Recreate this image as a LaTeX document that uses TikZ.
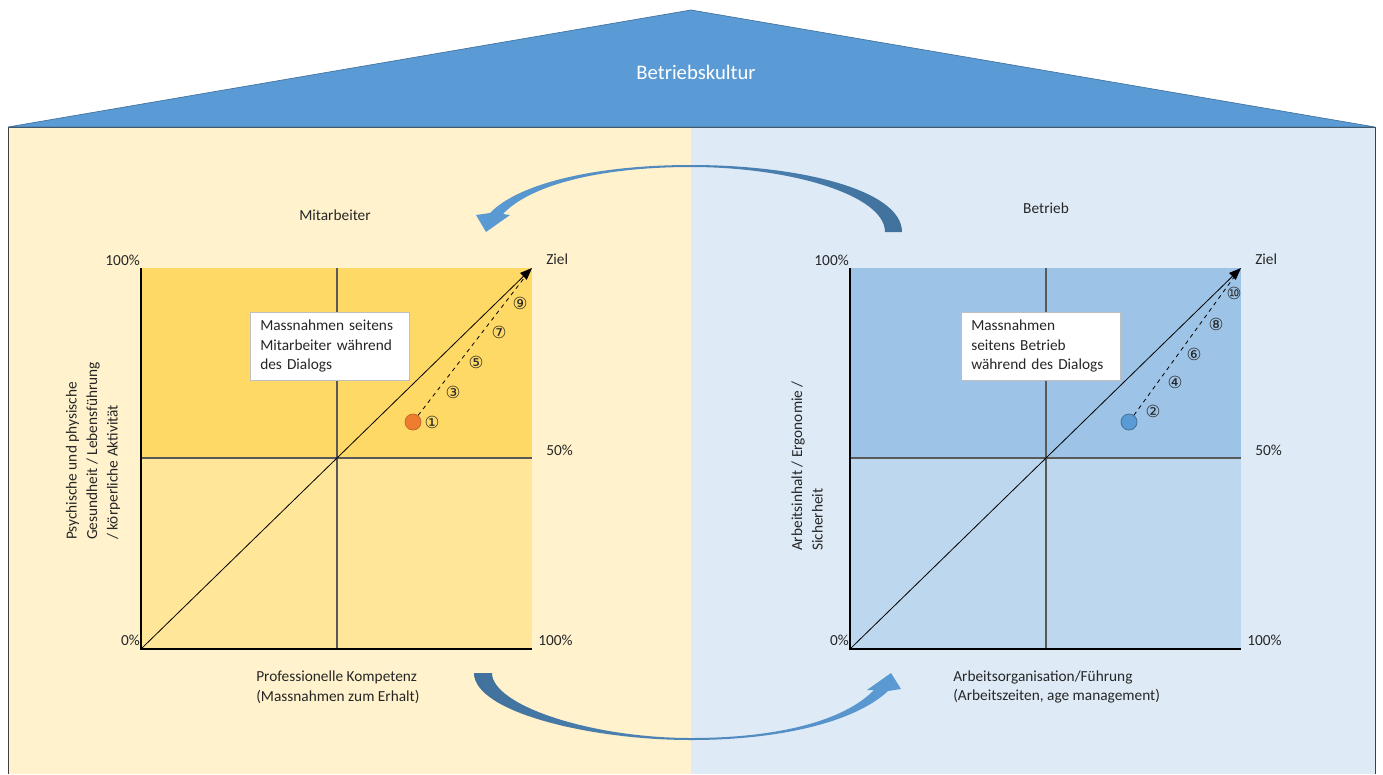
\documentclass[tikz,border=0pt]{standalone}
\usepackage{fontspec}
\setmainfont{Carlito}
\newfontfamily\circfont{DejaVu Sans}
\usetikzlibrary{arrows.meta}
\definecolor{roofblue}{HTML}{5B9BD5}
\definecolor{roofedge}{HTML}{41719C}
\definecolor{creme}{HTML}{FFF2CC}
\definecolor{paleblue}{HTML}{DEEBF7}
\definecolor{yelhi}{HTML}{FFD966}
\definecolor{yello}{HTML}{FFE699}
\definecolor{bluhi}{HTML}{9DC3E6}
\definecolor{blulo}{HTML}{BDD7EE}
\definecolor{dotorange}{HTML}{ED7D31}
\definecolor{arrowdark}{HTML}{41719C}
\begin{document}
\begin{tikzpicture}[x=0.75pt, y=-0.75pt,
		lbl/.style={font=\fontsize{11.5}{14.6}\selectfont, text=black!85, inner sep=0pt},
		msgbox/.style={lbl, draw=black!25, fill=white, align=left, text width=104pt, inner xsep=7.5pt, inner ysep=6pt, anchor=north west},
		num/.style={font=\circfont\fontsize{12.5}{12.5}\selectfont, text=black!85, inner sep=0pt},
		axis/.style={line width=1.5pt},
		midline/.style={draw=black!65, line width=0.8pt},
		dot/.style={circle, minimum size=12pt, inner sep=0pt, line width=0.6pt}]
	\useasboundingbox (0,0) rectangle (1383,774);
	% house and roof
	\fill[creme] (8,127) rectangle (691,774);
	\fill[paleblue] (691,127) rectangle (1375,774);
	\draw[black!75, line width=0.6pt] (8,774) -- (8,127) -- (1375,127) -- (1375,774);
	\filldraw[fill=roofblue, draw=roofedge, line width=0.5pt] (8,127) -- (691,10) -- (1375,127) -- cycle;
	\node[lbl, text=white, font=\fontsize{15.5}{18}\selectfont] (kultur) at (696,72) {Betriebskultur};
	% the two charts
	\foreach \ox/\hi/\lo/\s in {141/yelhi/yello/L, 850/bluhi/blulo/R} {
		\fill[\hi] (\ox,268) rectangle ++(391,190);
		\fill[\lo] (\ox,458) rectangle ++(391,191);
		\coordinate (o\s) at (\ox,649);
		\coordinate (z\s) at (\ox+391,268);
		\draw[midline] (\ox+196,268) -- (\ox+196,649);
		\draw[midline] (\ox,458) -- (\ox+391,458);
		\draw[axis] (\ox,268) -- (o\s) -- (\ox+391,649);
		\draw[-{Triangle[length=9pt,width=7pt]}, line width=0.6pt] (o\s) -- (z\s);
		\node[lbl, anchor=base east] (top\s) at (\ox-1,265) {100\%};
		\node[lbl, anchor=base east] (nul\s) at (\ox-1,645) {0\%};
		\node[lbl, anchor=base west] (half\s) at (\ox+405,455) {50\%};
		\node[lbl, anchor=base west] (full\s) at (\ox+397,645) {100\%};
		\node[lbl, anchor=base west] (ziel\s) at (\ox+405,264) {Ziel};
	}
	\node[msgbox] (massL) at (250,312) {Massnahmen seitens\\Mitarbeiter während\\des Dialogs};
	\node[msgbox] (massR) at (961,312) {Massnahmen\\seitens Betrieb\\während des Dialogs};
	% steps of the dialog
	\node[dot, fill=dotorange, draw=dotorange!85!black] (dotL) at (413,422) {};
	\node[dot, fill=roofblue, draw=roofedge] (dotR) at (1129,422) {};
	\coordinate (tipL) at (528,273);
	\coordinate (tipR) at (1237,273);
	\draw[dashed, line width=0.6pt] (dotL) -- (tipL);
	\draw[dashed, line width=0.6pt] (dotR) -- (tipR);
	\foreach \t/\x/\y in {①/432/422, ③/453/392, ⑤/476/362, ⑦/499/332, ⑨/520/303,
		②/1153/411, ④/1175/382, ⑥/1194/354, ⑧/1216/324, ⑩/1234/293}
		\node[num] (n\x) at (\x,\y) {\t};
	% axis titles
	\node[lbl] (mitarb) at (335,215) {Mitarbeiter};
	\node[lbl] (betrieb) at (1046,208) {Betrieb};
	\node[lbl, align=left, anchor=west] (kompetenz) at (256,687) {Professionelle Kompetenz\\(Massnahmen zum Erhalt)};
	\node[lbl, align=left, anchor=west] (organis) at (953,687) {Arbeitsorganisation/Führung\\(Arbeitszeiten, age management)};
	\node[lbl, align=left, rotate=90, font=\fontsize{11.5}{15.4}\selectfont] (gesund) at (93,451) {Psychische und physische\\Gesundheit / Lebensführung\\/ körperliche Aktivität};
	\node[lbl, align=left, rotate=90, font=\fontsize{11.5}{15.4}\selectfont] (ergo) at (807,466) {Arbeitsinhalt / Ergonomie /\\Sicherheit};
	% curved arrows between the halves
	\shade[left color=roofblue, right color=arrowdark] (902,232) -- (885,232)
		.. controls (885,195) and (790,167) .. (691,167)
		.. controls (600,167) and (530,185) .. (503,214) -- (510,215) -- (486,232) -- (476,215) -- (490,213)
		.. controls (520,182) and (600,165) .. (691,165)
		.. controls (800,165) and (902,190) .. (902,232) -- cycle;
	\shade[left color=arrowdark, right color=roofblue] (474,673) -- (492,673)
		.. controls (492,705) and (590,738) .. (691,738)
		.. controls (780,738) and (845,720) .. (874,690) -- (867,690) -- (891,673) -- (901,689) -- (888,691)
		.. controls (855,722) and (780,740) .. (691,740)
		.. controls (590,740) and (474,712) .. (474,673) -- cycle;
\end{tikzpicture}
\end{document}
